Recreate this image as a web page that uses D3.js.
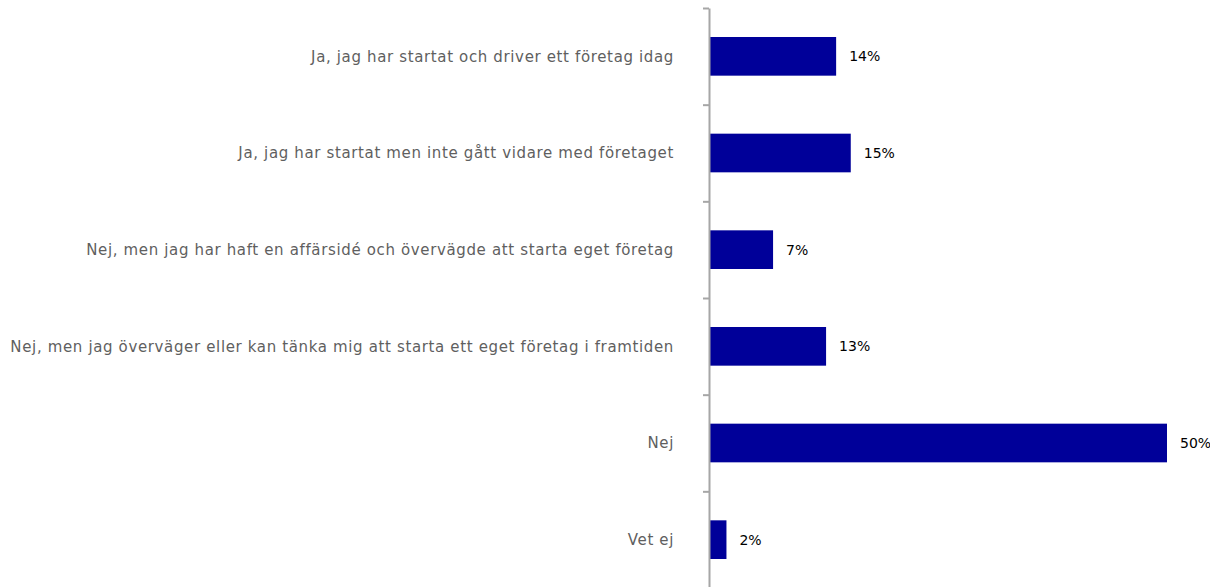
<!DOCTYPE html>
<html>
<head>
<meta charset="utf-8">
<script src="https://cdn.jsdelivr.net/npm/d3@7"></script>
<style>
	body { margin: 0; background: #fff; }
	.cat { font-family: 'DejaVu Sans', sans-serif; font-size: 15px; letter-spacing: 0.64px; fill: #5f5f5f; }
	.val { font-family: 'DejaVu Sans', sans-serif; font-size: 14px; fill: #000; }
</style>
</head>
<body>
<div class="chart"></div>
<script>
// answers, top to bottom
const categories = [
	'Ja, jag har startat och driver ett företag idag',
	'Ja, jag har startat men inte gått vidare med företaget',
	'Nej, men jag har haft en affärsidé och övervägde att starta eget företag',
	'Nej, men jag överväger eller kan tänka mig att starta ett eget företag i framtiden',
	'Nej',
	'Vet ej'
];
const values = [13.8, 15.4, 6.9, 12.7, 50, 1.8];
const valueLabels = ['14%', '15%', '7%', '13%', '50%', '2%'];

const width = 1210;
const height = 587;
const margin = { top: 8, right: 43, bottom: 0, left: 710 };

const svg = d3
	.select('.chart')
	.append('svg')
	.attr('width', width)
	.attr('height', height);

const x = d3.scaleLinear().domain([ 0, 50 ]).range([ margin.left, width - margin.right ]);

const y = d3
	.scaleBand()
	.domain(categories)
	.range([ margin.top, 588 ])
	.paddingInner(0.6)
	.paddingOuter(0.3);

// tick marks sit between the categories
const yTicks = d3.scaleLinear().domain([ 0, categories.length ]).range([ margin.top, 588 ]);

svg
	.append('g')
	.selectAll('rect')
	.data(values)
	.join('rect')
	.attr('x', x(0))
	.attr('y', (d, i) => y(categories[i]))
	.attr('width', (d) => x(d) - x(0))
	.attr('height', y.bandwidth())
	.attr('fill', '#000099');

svg
	.append('g')
	.attr('transform', `translate(${margin.left - 1},0)`)
	.call(d3.axisLeft(yTicks).tickValues(d3.range(0, categories.length + 1)).tickFormat('').tickSize(6).tickSizeOuter(0))
	.call((g) => g.selectAll('path, line').attr('stroke', '#a6a6a6').attr('stroke-width', 2));

svg
	.append('g')
	.selectAll('text')
	.data(categories)
	.join('text')
	.attr('class', 'cat')
	.attr('x', margin.left - 36)
	.attr('y', (d) => y(d) + y.bandwidth() / 2)
	.attr('dy', '0.35em')
	.attr('text-anchor', 'end')
	.text((d) => d);

svg
	.append('g')
	.selectAll('text')
	.data(values)
	.join('text')
	.attr('class', 'val')
	.attr('x', (d) => x(d) + 13)
	.attr('y', (d, i) => y(categories[i]) + y.bandwidth() / 2)
	.attr('dy', '0.35em')
	.text((d, i) => valueLabels[i]);
</script>
</body>
</html>
